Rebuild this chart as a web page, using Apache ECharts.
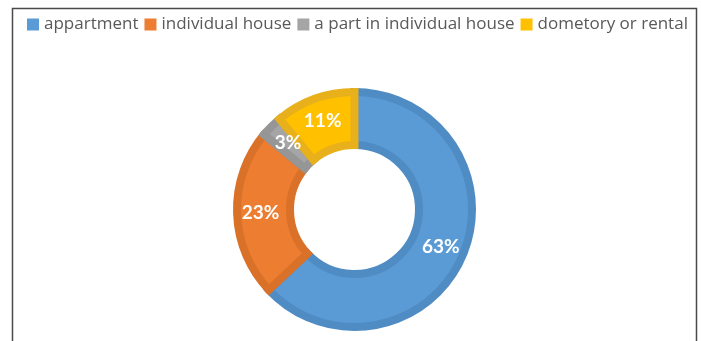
<!DOCTYPE html>
<html>
<head>
<meta charset="utf-8">
<script src="https://cdn.jsdelivr.net/npm/echarts@6/dist/echarts.min.js"></script>
<style>
  html, body { margin: 0; padding: 0; background: #fff; }
  #chart { width: 701px; height: 341px; }
</style>
</head>
<body>
<div id="chart"></div>
<script>
// Housing type shares (percent)
const categories = ['appartment', 'individual house', 'a part in individual house', 'dometory or rental'];
const shares = [63, 23, 3, 11];
const fillColors = ['#5B9BD5', '#ED7D31', '#A5A5A5', '#FFC000'];
const edgeColors = ['#508CC4', '#DA7128', '#969696', '#E8B01A'];

const chart = echarts.init(document.getElementById('chart'), null, { renderer: 'canvas' });

const pieData = categories.map((name, i) => ({
  name: name,
  value: shares[i],
  itemStyle: { color: fillColors[i], borderColor: edgeColors[i] }
}));

chart.setOption({
  animation: false,
  backgroundColor: '#ffffff',
  graphic: [{
    type: 'rect',
    shape: { x: 12.5, y: 8.5, width: 684, height: 350 },
    style: { fill: 'none', stroke: '#4a4a4a', lineWidth: 1.5 },
    silent: true
  }],
  legend: {
    top: 11,
    left: 22,
    itemWidth: 12,
    itemHeight: 12,
    itemGap: 6,
    icon: 'rect',
    itemStyle: { borderWidth: 0 },
    textStyle: { fontFamily: 'Open Sans', fontSize: 17, color: '#595959' },
    data: categories
  },
  series: [{
    type: 'pie',
    center: [354.5, 209.5],
    radius: [64.5, 117.5],
    startAngle: 90,
    clockwise: true,
    avoidLabelOverlap: false,
    itemStyle: { borderWidth: 8, borderJoin: 'miter' },
    label: {
      show: true,
      position: 'inside',
      formatter: '{d}%',
      color: '#ffffff',
      fontFamily: 'Lato',
      fontWeight: 'bold',
      fontSize: 19
    },
    labelLine: { show: false },
    emphasis: { disabled: true },
    data: pieData
  }]
});
</script>
</body>
</html>
